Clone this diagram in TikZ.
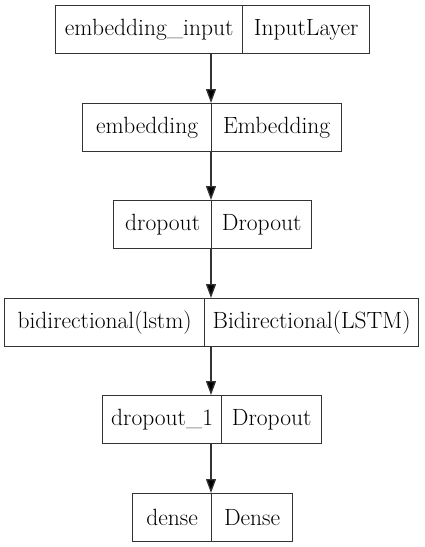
\documentclass[tikz,border=0pt]{standalone}
\usetikzlibrary{arrows.meta}
\begin{document}
\begin{tikzpicture}[x=1pt,y=-1pt,
  cell/.style={draw=black!80,line width=1.3pt,inner sep=0pt,minimum height=48pt,anchor=north west,font=\fontsize{23.5}{27}\selectfont},
  box/.style={inner sep=0pt,minimum height=48pt,anchor=north west},
  arr/.style={draw=black!80,line width=1.3pt,-{Triangle[length=14pt,width=10pt,fill=black]}}]
\useasboundingbox (0,0) rectangle (424,547);
\coordinate (ax) at (211,0);
% row 1
\node[box,minimum width=314pt] (b1) at (55,5) {};
\node[cell,minimum width=187pt] (l1) at (55,5) {embedding\_input};
\node[cell,minimum width=127pt] (r1) at (242,5) {InputLayer};
% row 2
\node[box,minimum width=259pt] (b2) at (82,103) {};
\node[cell,minimum width=129pt] (l2) at (82,103) {embedding};
\node[cell,minimum width=130pt] (r2) at (211,103) {Embedding};
% row 3
\node[box,minimum width=198pt] (b3) at (113,200) {};
\node[cell,minimum width=98pt] (l3) at (113,200) {dropout};
\node[cell,minimum width=100pt] (r3) at (211,200) {Dropout};
% row 4
\node[box,minimum width=414pt] (b4) at (4,298) {};
\node[cell,minimum width=200pt] (l4) at (4,298) {bidirectional(lstm)};
\node[cell,minimum width=214pt] (r4) at (204,298) {Bidirectional(LSTM)};
% row 5
\node[box,minimum width=219pt] (b5) at (102,395) {};
\node[cell,minimum width=119pt] (l5) at (102,395) {dropout\_1};
\node[cell,minimum width=100pt] (r5) at (221,395) {Dropout};
% row 6
\node[box,minimum width=160pt] (b6) at (132,493) {};
\node[cell,minimum width=79pt] (l6) at (132,493) {dense};
\node[cell,minimum width=81pt] (r6) at (211,493) {Dense};
% arrows
\draw[arr] (b1.south -| ax) -- (b2.north -| ax);
\draw[arr] (b2.south -| ax) -- (b3.north -| ax);
\draw[arr] (b3.south -| ax) -- (b4.north -| ax);
\draw[arr] (b4.south -| ax) -- (b5.north -| ax);
\draw[arr] (b5.south -| ax) -- (b6.north -| ax);
\end{tikzpicture}
\end{document}
